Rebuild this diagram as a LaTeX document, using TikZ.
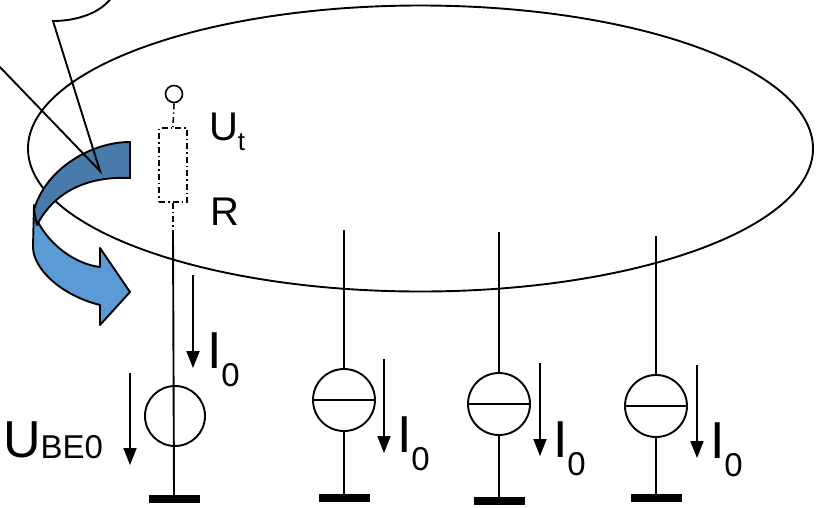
\documentclass[tikz,border=0pt]{standalone}
\usepackage{fontspec}
\setmainfont{Liberation Sans}
\usetikzlibrary{arrows.meta}
\definecolor{ribbondark}{RGB}{72,122,171}
\definecolor{ribbonlight}{RGB}{91,155,213}
\newcommand{\curlabel}{{\fontsize{52}{52}\selectfont I}\raisebox{-18pt}{\fontsize{33}{33}\selectfont 0}}
\begin{document}
\begin{tikzpicture}[x=1pt,y=-1pt,
  wire/.style={line width=1.9pt},
  dashdot/.style={line width=1.6pt, dash pattern=on 6pt off 3pt on 1.5pt off 3pt},
  source/.style={circle, draw, line width=1.9pt, minimum size=62pt, inner sep=0pt},
  gnd/.style={rectangle, fill=black, minimum width=51pt, minimum height=8pt, inner sep=0pt},
  cur/.style={line width=1.9pt, -{Triangle[width=13pt,length=17pt]}},
  lbl/.style={anchor=base west, inner sep=0pt, outer sep=0pt},
  ribbon/.style={draw=black, line width=1.9pt, line join=round}
]
\useasboundingbox (0,0) rectangle (816,507);

% the plane around the circuit
\draw[wire] (420.5,148.5) ellipse [x radius=392.5, y radius=143];

% terminal, resistor and the voltage source U_BE0
\node[circle, draw, line width=1.6pt, minimum size=17pt, inner sep=0pt] (term) at (174,94) {};
\node[rectangle, draw, dashdot, minimum width=28pt, minimum height=74pt, inner sep=0pt] (res) at (173,165) {};
\coordinate (resbot) at (173,233);
\node[source, minimum size=60pt] (vs) at (175,416) {};
\node[gnd] (g1) at (174,499) {};
\draw[dashdot] (term.south) -- (res.north);
\draw[dashdot] (res.south) -- (resbot);
\draw[wire] (resbot) -- (g1.north);

% current sources
\foreach \n/\x/\ytop/\yc/\yg in {2/344/230/400/498, 3/499/232/404/501, 4/656/236/406/498}{
  \coordinate (top\n) at (\x,\ytop);
  \node[source] (cs\n) at (\x,\yc) {};
  \node[gnd] (g\n) at (\x,\yg) {};
  \draw[wire] (top\n) -- (cs\n.north);
  \draw[wire] (cs\n.south) -- (g\n.north);
  \draw[wire] (cs\n.west) -- (cs\n.east);
}

% current and voltage arrows
\coordinate (a1s) at (193,275); \coordinate (a1e) at (193,368);
\coordinate (a2s) at (384,359); \coordinate (a2e) at (384,453);
\coordinate (a3s) at (540,363); \coordinate (a3e) at (540,456);
\coordinate (a4s) at (697,365); \coordinate (a4e) at (697,458);
\coordinate (ubs) at (130,373); \coordinate (ube) at (130,465);
\draw[cur] (a1s) -- (a1e);
\draw[cur] (a2s) -- (a2e);
\draw[cur] (a3s) -- (a3e);
\draw[cur] (a4s) -- (a4e);
\draw[cur] (ubs) -- (ube);

% labels
\node[lbl] (lut) at (209,140) {{\fontsize{40}{40}\selectfont U}\raisebox{-10pt}{\fontsize{26}{26}\selectfont t}};
\node[lbl] (lr) at (210,225) {\fontsize{40}{40}\selectfont R};
\node[lbl] (li1) at (207,368) {\curlabel};
\node[lbl] (li2) at (397,452) {\curlabel};
\node[lbl] (li3) at (553,457) {\curlabel};
\node[lbl] (li4) at (710,458) {\curlabel};
\node[lbl] (lube) at (3,457) {{\fontsize{52}{52}\selectfont U}\raisebox{-1pt}{\fontsize{33}{33}\selectfont BE0}};

% curved ribbon arrow
\draw[ribbon, fill=ribbonlight]
  (34,205) -- (33,247) .. controls (33,268) and (60,295) .. (100,305)
  -- (100,325) -- (130,292) -- (100,248) -- (100,267)
  .. controls (75,264) and (50,245) .. (38,222) -- cycle;
\draw[ribbon, fill=ribbondark]
  (130,142) -- (130,178) .. controls (90,176) and (55,190) .. (37,225)
  -- (34,210) .. controls (45,170) and (90,142) .. (130,142) -- cycle;

% callout pointing at the ribbon
\draw[line width=1.9pt, line join=miter]
  (112,-3) .. controls (100,14) and (75,21) .. (53,21) -- (100,171) -- (-3,64);
\end{tikzpicture}
\end{document}
